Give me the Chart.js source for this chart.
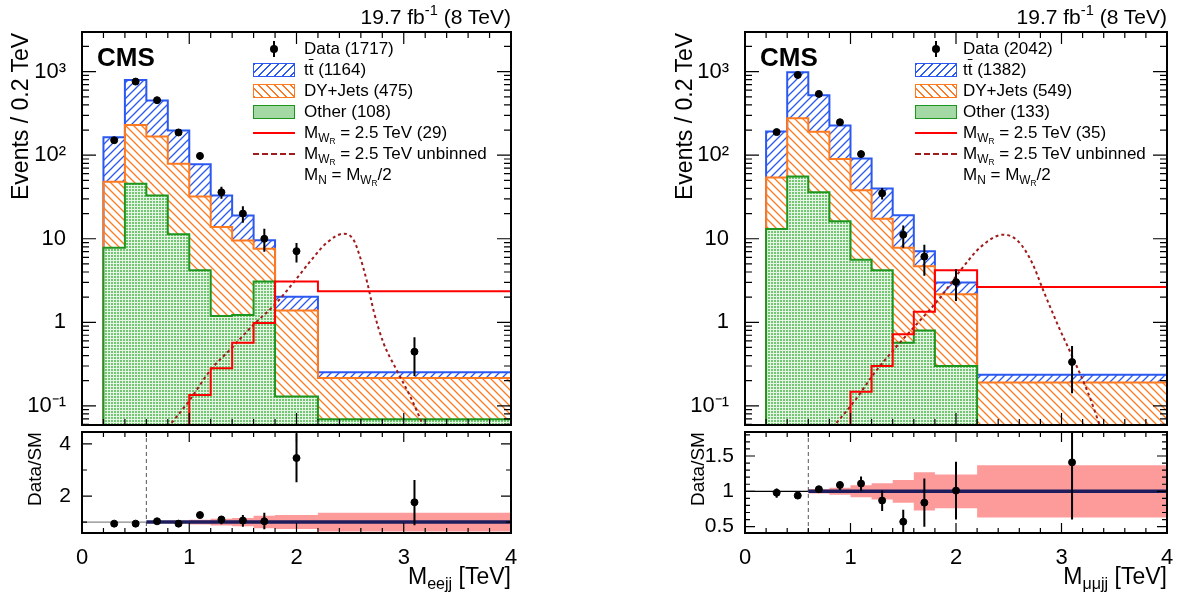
<!DOCTYPE html>
<html lang="en">
  <head>
    <meta charset="UTF-8" />
    <title>CMS W_R search - M(lljj) distributions</title>
    <script src="https://cdn.jsdelivr.net/npm/chart.js"></script>
    <style>
      body { margin: 0; background: #fff; }
      #page {
        position: relative; width: 1193px; height: 599px; overflow: hidden;
        font-family: "Liberation Sans", Arial, sans-serif; color: #000;
      }
      #page canvas { position: absolute; }
      .t { position: absolute; white-space: nowrap; line-height: 1; }
      .t sub { font-size: 70%; vertical-align: -0.3em; line-height: 0; }
      .t sup { font-size: 70%; vertical-align: 0.6em; line-height: 0; }
      .vert { writing-mode: vertical-rl; transform: rotate(180deg); text-align: end; }
      .leg { font-size: 17px; line-height: 20px; }
      .sw { position: absolute; box-sizing: border-box; }
    </style>
  </head>
  <body>
    <div id="page">
      <canvas id="eeMain" width="525" height="430" style="left:0px;top:0px"></canvas>
      <canvas id="eeRatio" width="525" height="173" style="left:0px;top:426px"></canvas>
      <canvas id="mmMain" width="520" height="430" style="left:660px;top:0px"></canvas>
      <canvas id="mmRatio" width="520" height="173" style="left:660px;top:426px"></canvas>
    </div>

    <script>
      // ---- binning (TeV) ----
      const binEdges = [0.2, 0.4, 0.6, 0.8, 1.0, 1.2, 1.4, 1.6, 1.8, 2.2, 4.0];
      const binCenters = [0.3, 0.5, 0.7, 0.9, 1.1, 1.3, 1.5, 1.7, 2.0, 3.1];
      const sigEdges = [0, 1.0, 1.2, 1.4, 1.6, 1.8, 2.2, 4.0];
      const uncEdges = [0.6, 0.8, 1.0, 1.2, 1.4, 1.6, 1.8, 2.2, 4.0];
      const ratioCut = 0.6;

      // ---- ee channel (events / 0.2 TeV, stacked tops) ----
      const eeOther = [7.8, 45.6, 33, 11.3, 4.2, 1.19, 1.22, 3.07, 0.129, 0.069];
      const eeDYtop = [48, 229, 167, 79, 32, 13.8, 9.5, 7.6, 1.38, 0.215];
      const eeTotal = [164, 795, 450, 198, 78, 33, 19, 9.6, 2.02, 0.252];
      const eeSignal = [0, 0.135, 0.282, 0.57, 0.98, 3.08, 2.35];
      const eeCurveX = [0.80, 1.01, 1.19, 1.40, 1.60, 1.80, 1.97, 2.13, 2.28, 2.44, 2.53, 2.59, 2.66, 2.72, 2.81, 2.93, 3.06, 3.19];
      const eeCurveY = [0.055, 0.12, 0.26, 0.50, 0.94, 1.64, 2.97, 5.4, 8.9, 11.5, 9.8, 6.2, 2.97, 1.36, 0.57, 0.274, 0.13, 0.055];
      const eeData = [151, 760, 455, 187, 98, 36, 20, 10, 7.1, 0.445];
      const eeDataLo = [139, 732, 434, 173, 88, 30, 15.5, 7.0, 5.2, 0.228];
      const eeDataHi = [163, 788, 476, 201, 108, 42, 24.5, 13.2, 8.9, 0.66];
      const eeRatio = [0.94, 0.94, 1.03, 0.94, 1.27, 1.10, 1.06, 1.03, 3.46, 1.76];
      const eeRatioLo = [0.91, 0.92, 1.00, 0.90, 1.19, 0.92, 0.82, 0.72, 2.53, 0.88];
      const eeRatioHi = [0.97, 0.96, 1.06, 0.98, 1.35, 1.23, 1.27, 1.36, 4.41, 2.62];
      const eeUnc = [0.02, 0.05, 0.09, 0.13, 0.16, 0.24, 0.27, 0.36];
      const eeCounts = [1717, 1164, 475, 108, 29];

      // ---- mumu channel ----
      const mmOther = [13.1, 55.7, 36, 16.2, 5.6, 4.2, 0.57, 0.80, 0.30, 0];
      const mmDYtop = [54, 277, 191, 90, 38, 17.4, 7.8, 4.7, 2.16, 0.19];
      const mmTotal = [192, 982, 521, 226, 91, 40, 19.1, 7.1, 3.0, 0.236];
      const mmSignal = [0, 0.148, 0.30, 0.72, 1.34, 4.2, 2.64];
      const mmCurveX = [0.83, 1.04, 1.23, 1.44, 1.64, 1.85, 2.05, 2.24, 2.45, 2.59, 2.72, 2.83, 2.97, 3.10, 3.25, 3.37];
      const mmCurveY = [0.055, 0.115, 0.25, 0.52, 0.99, 1.97, 4.3, 8.1, 11.2, 9.3, 5.2, 2.36, 0.90, 0.395, 0.145, 0.055];
      const mmData = [189, 912, 541, 248, 103, 35, 11.2, 6.1, 3.03, 0.335];
      const mmDataLo = [175, 882, 518, 232, 93, 29.5, 7.8, 3.6, 1.8, 0.142];
      const mmDataHi = [203, 942, 564, 264, 113, 40.5, 14.4, 8.5, 4.3, 0.52];
      const mmRatio = [0.98, 0.94, 1.03, 1.09, 1.11, 0.87, 0.57, 0.84, 1.01, 1.41];
      const mmRatioLo = [0.91, 0.92, 1.00, 1.02, 1.00, 0.72, 0.38, 0.50, 0.60, 0.60];
      const mmRatioHi = [1.04, 0.96, 1.06, 1.14, 1.21, 1.01, 0.74, 1.18, 1.42, 1.90];
      const mmUnc = [0.03, 0.05, 0.085, 0.115, 0.16, 0.27, 0.24, 0.37];
      const mmCounts = [2042, 1382, 549, 133, 35];

      // ---- axes ----
      const yLogMin = 0.059, yLogMax = 2980;
      const logMajor = [0.1, 1, 10, 100, 1000];
      const logLabels = ["10\u207B\u00B9", "1", "10", "10\u00B2", "10\u00B3"];
      const xMajor = [0, 1, 2, 3, 4];

      const logMinor = [];
      for (let d = -2; d <= 3; d++)
        for (let m = 2; m <= 9; m++) {
          const v = m * Math.pow(10, d);
          if (v > yLogMin && v < yLogMax) logMinor.push(v);
        }
      const xMinor = [];
      for (let i = 1; i < 20; i++) if (i % 5) xMinor.push(i * 0.2);

      const FLOOR = 1e-4; // empty bins end up below the axis

      Chart.defaults.font.family = '"Liberation Sans", Arial, sans-serif';
      Chart.defaults.color = "#000";

      function hatch(color, dir) {
        const c = document.createElement("canvas");
        c.width = c.height = 8;
        const g = c.getContext("2d");
        g.strokeStyle = color;
        g.lineWidth = 1.3;
        g.beginPath();
        if (dir > 0) {
          g.moveTo(0, 8); g.lineTo(8, 0);
          g.moveTo(-2, 2); g.lineTo(2, -2);
          g.moveTo(6, 10); g.lineTo(10, 6);
        } else {
          g.moveTo(0, 0); g.lineTo(8, 8);
          g.moveTo(-2, 6); g.lineTo(2, 10);
          g.moveTo(6, -2); g.lineTo(10, 2);
        }
        g.stroke();
        return g.createPattern(c, "repeat");
      }

      // fine green/white checker like the ROOT 3001-ish fill
      function dots() {
        const c = document.createElement("canvas");
        c.width = c.height = 3;
        const g = c.getContext("2d");
        g.fillStyle = "#e6f5e6";
        g.fillRect(0, 0, 3, 3);
        g.fillStyle = "#72c672";
        g.fillRect(0, 0, 2, 2);
        return g.createPattern(c, "repeat");
      }

      const blueHatch = hatch("#2a58f0", 1);
      const orangeHatch = hatch("#ff7a1f", -1);
      const greenDots = dots();

      // step outline points: value of bin i sits on its left edge
      function histPoints(edges, vals, floor) {
        const pts = [];
        if (floor !== undefined) pts.push({ x: edges[0], y: floor });
        vals.forEach((v, i) => pts.push({ x: edges[i], y: v > 0 ? v : floor }));
        pts.push({ x: edges[edges.length - 1], y: pts[pts.length - 1].y });
        return pts;
      }

      // frame, inward ticks and error bars
      const framePlugin = {
        id: "frame",
        afterDatasetsDraw(chart, args, o) {
          const { ctx, chartArea: a } = chart;
          const sx = chart.scales.x, sy = chart.scales.y;
          ctx.save();
          ctx.strokeStyle = "#000";
          ctx.lineWidth = 2;
          ctx.beginPath();
          chart.data.datasets.forEach((ds) => {
            if (!ds.errLo) return;
            ds.data.forEach((p, i) => {
              const px = sx.getPixelForValue(p.x);
              ctx.moveTo(px, Math.max(a.top, sy.getPixelForValue(ds.errHi[i])));
              ctx.lineTo(px, Math.min(a.bottom, sy.getPixelForValue(ds.errLo[i])));
            });
          });
          ctx.stroke();

          ctx.lineWidth = 1.2;
          ctx.beginPath();
          const xt = (vals, len) => vals.forEach((v) => {
            const p = sx.getPixelForValue(v);
            ctx.moveTo(p, a.bottom); ctx.lineTo(p, a.bottom - len);
            ctx.moveTo(p, a.top); ctx.lineTo(p, a.top + len);
          });
          const yt = (vals, len) => vals.forEach((v) => {
            const p = sy.getPixelForValue(v);
            ctx.moveTo(a.left, p); ctx.lineTo(a.left + len, p);
            ctx.moveTo(a.right, p); ctx.lineTo(a.right - len, p);
          });
          xt(o.xMajor, o.xLen); xt(o.xMinor, o.xLen / 2);
          yt(o.yMajor, o.yLen); yt(o.yMinor, o.yLen / 2);
          ctx.stroke();

          ctx.lineWidth = 2;
          ctx.strokeRect(a.left, a.top, a.width, a.height);
          ctx.restore();
        },
      };
      Chart.register(framePlugin);

      function mainChart(id, axisW, padRight, other, dyTop, total, sig, cx, cy, data, lo, hi) {
        return new Chart(document.getElementById(id), {
          type: "line",
          data: {
            datasets: [
              { data: histPoints(binEdges, other, FLOOR), stepped: true, borderColor: "#1e961e", borderWidth: 2,
                backgroundColor: greenDots, fill: "start", pointRadius: 0, order: 3 },
              { data: histPoints(binEdges, dyTop, FLOOR), stepped: true, borderColor: "#ff7a1f", borderWidth: 2,
                backgroundColor: orangeHatch, fill: "-1", pointRadius: 0, order: 4 },
              { data: histPoints(binEdges, total, FLOOR), stepped: true, borderColor: "#2a58f0", borderWidth: 2,
                backgroundColor: blueHatch, fill: "-1", pointRadius: 0, order: 5 },
              { data: histPoints(sigEdges, sig, FLOOR), stepped: true, borderColor: "#ff0000", borderWidth: 2,
                fill: false, pointRadius: 0, order: 1 },
              { data: cx.map((x, i) => ({ x: x, y: cy[i] })), borderColor: "#a01c1c", borderWidth: 2,
                borderDash: [3, 3], cubicInterpolationMode: "monotone", fill: false, pointRadius: 0, order: 2 },
              { data: binCenters.map((x, i) => ({ x: x, y: data[i] })), showLine: false, pointRadius: 3.5,
                pointBackgroundColor: "#000", pointBorderColor: "#000", errLo: lo, errHi: hi, order: 0 },
            ],
          },
          options: {
            responsive: false,
            animation: false,
            events: [],
            layout: { padding: { left: 0, right: padRight, top: 32, bottom: 4 } },
            plugins: {
              legend: { display: false },
              tooltip: { enabled: false },
              frame: { xMajor: xMajor, xMinor: xMinor, yMajor: logMajor, yMinor: logMinor, xLen: 12, yLen: 14 },
            },
            scales: {
              x: { type: "linear", min: 0, max: 4, display: false },
              y: {
                type: "logarithmic", min: yLogMin, max: yLogMax,
                grid: { display: false }, border: { display: false },
                afterBuildTicks: (s) => { s.ticks = logMajor.map((v) => ({ value: v })); },
                ticks: { padding: 8, autoSkip: false, font: { size: 22 },
                  callback: (v) => logLabels[logMajor.indexOf(v)] },
                afterFit: (s) => { s.width = axisW; s.paddingTop = 0; s.paddingBottom = 0; },
              },
            },
          },
        });
      }

      function ratioChart(id, axisW, padRight, yMin, yMax, yMaj, yMin2, flatColor, ratio, lo, hi, unc) {
        return new Chart(document.getElementById(id), {
          type: "line",
          data: {
            datasets: [
              { data: binCenters.map((x, i) => ({ x: x, y: ratio[i] })), showLine: false, pointRadius: 3.5,
                pointBackgroundColor: "#000", pointBorderColor: "#000", errLo: lo, errHi: hi, order: 0 },
              { data: [{ x: ratioCut, y: 1 }, { x: 4, y: 1 }], borderColor: "#1d1d5e", borderWidth: 3.5,
                pointRadius: 0, order: 1 },
              { data: [{ x: 0, y: 1 }, { x: ratioCut, y: 1 }], borderColor: flatColor, borderWidth: 1.3,
                pointRadius: 0, order: 1 },
              { data: [{ x: ratioCut, y: yMin }, { x: ratioCut, y: yMax }], borderColor: "#555", borderWidth: 1,
                borderDash: [4, 3], pointRadius: 0, order: 1 },
              { data: histPoints(uncEdges, unc.map((u) => 1 + u)), stepped: true, borderColor: "rgba(0,0,0,0)",
                backgroundColor: "#fd9b9b", fill: "+1", pointRadius: 0, order: 3 },
              { data: histPoints(uncEdges, unc.map((u) => 1 - u)), stepped: true, borderColor: "rgba(0,0,0,0)",
                fill: false, pointRadius: 0, order: 3 },
            ],
          },
          options: {
            responsive: false,
            animation: false,
            events: [],
            layout: { padding: { left: 0, right: padRight, top: 6, bottom: 0 } },
            plugins: {
              legend: { display: false },
              tooltip: { enabled: false },
              frame: { xMajor: xMajor, xMinor: xMinor, yMajor: yMaj, yMinor: yMin2, xLen: 10, yLen: 10 },
            },
            scales: {
              x: {
                type: "linear", min: 0, max: 4,
                grid: { display: false }, border: { display: false },
                afterBuildTicks: (s) => { s.ticks = xMajor.map((v) => ({ value: v })); },
                ticks: { padding: 4, autoSkip: false, maxRotation: 0, font: { size: 22 },
                  callback: (v) => String(v) },
                afterFit: (s) => { s.height = 66; s.paddingLeft = 0; s.paddingRight = 0; },
              },
              y: {
                type: "linear", min: yMin, max: yMax,
                grid: { display: false }, border: { display: false },
                afterBuildTicks: (s) => { s.ticks = yMaj.map((v) => ({ value: v })); },
                ticks: { padding: 3, autoSkip: false, font: { size: 21 }, callback: (v) => String(v) },
                afterFit: (s) => { s.width = axisW; s.paddingTop = 0; s.paddingBottom = 0; },
              },
            },
          },
        });
      }

      mainChart("eeMain", 82, 14, eeOther, eeDYtop, eeTotal, eeSignal, eeCurveX, eeCurveY, eeData, eeDataLo, eeDataHi);
      mainChart("mmMain", 85, 13, mmOther, mmDYtop, mmTotal, mmSignal, mmCurveX, mmCurveY, mmData, mmDataLo, mmDataHi);
      ratioChart("eeRatio", 82, 14, 0.58, 4.46, [2, 4], [1, 3], "#888",
        eeRatio, eeRatioLo, eeRatioHi, eeUnc);
      ratioChart("mmRatio", 85, 13, 0.41, 1.84, [0.5, 1, 1.5],
        [0.6, 0.7, 0.8, 0.9, 1.1, 1.2, 1.3, 1.4, 1.6, 1.7, 1.8], "#000",
        mmRatio, mmRatioLo, mmRatioHi, mmUnc);

      // ---- text overlays ----
      const page = document.getElementById("page");
      function put(html, style, cls) {
        const d = document.createElement("div");
        d.className = "t " + (cls || "");
        d.innerHTML = html;
        Object.assign(d.style, style);
        page.appendChild(d);
        return d;
      }
      function box(style) {
        const d = document.createElement("div");
        d.className = "sw";
        Object.assign(d.style, style);
        page.appendChild(d);
      }

      function legend(swX, txX, n) {
        const rows = [49, 70, 91, 112, 133, 154, 175];
        const wr = "M<sub>W<sub>R</sub></sub>";
        const labels = [
          "Data (" + n[0] + ")",
          't<span style="text-decoration:overline">t</span> (' + n[1] + ")",
          "DY+Jets (" + n[2] + ")",
          "Other (" + n[3] + ")",
          wr + " = 2.5 TeV (" + n[4] + ")",
          wr + " = 2.5 TeV unbinned",
          "M<sub>N</sub> = " + wr + "/2",
        ];
        labels.forEach((s, i) => put(s, { left: txX + "px", top: rows[i] - 10 + "px" }, "leg"));
        const w = 42;
        box({ left: swX + w / 2 - 1 + "px", top: rows[0] - 8 + "px", width: "2px", height: "16px", background: "#000" });
        box({ left: swX + w / 2 - 4 + "px", top: rows[0] - 4 + "px", width: "8px", height: "8px", background: "#000", borderRadius: "50%" });
        box({ left: swX + "px", top: rows[1] - 7 + "px", width: w + "px", height: "14px", border: "1.5px solid #2a58f0",
          background: "repeating-linear-gradient(135deg, #2a58f0 0 1.3px, #fff 1.3px 5.6px)" });
        box({ left: swX + "px", top: rows[2] - 7 + "px", width: w + "px", height: "14px", border: "1.5px solid #ff7a1f",
          background: "repeating-linear-gradient(45deg, #ff7a1f 0 1.3px, #fff 1.3px 5.6px)" });
        box({ left: swX + "px", top: rows[3] - 7 + "px", width: w + "px", height: "14px", border: "1.5px solid #1e961e",
          background: "#a4d8a4" });
        box({ left: swX + "px", top: rows[4] - 1 + "px", width: w + "px", height: "0px", borderTop: "2px solid #ff0000" });
        box({ left: swX + "px", top: rows[5] - 1 + "px", width: w + "px", height: "0px", borderTop: "2px dashed #a01c1c" });
      }

      function panelText(x0, plotRight, yTitleX, ratioTitleX, swX, txX, counts, xSub) {
        const r = 1193 - plotRight + "px";
        put("19.7 fb<sup>-1</sup> (8 TeV)", { right: r, top: "6px", fontSize: "21px" });
        put("CMS", { left: x0 + 15 + "px", top: "44px", fontSize: "26px", fontWeight: "bold" });
        put("Events / 0.2 TeV", { left: yTitleX - 12 + "px", top: "33px", height: "300px", fontSize: "23px", lineHeight: "24px" }, "vert");
        put("Data/SM", { left: ratioTitleX - 10 + "px", top: "432px", height: "120px", fontSize: "19px", lineHeight: "20px" }, "vert");
        put("M<sub>" + xSub + "</sub> [TeV]", { right: r, top: "565px", fontSize: "23px" });
        legend(swX, txX, counts);
      }

      panelText(82, 511, 20, 35, 253, 304, eeCounts, "eejj");
      panelText(745, 1167, 684, 698, 915, 963, mmCounts, "\u03BC\u03BCjj");
    </script>
  </body>
</html>
